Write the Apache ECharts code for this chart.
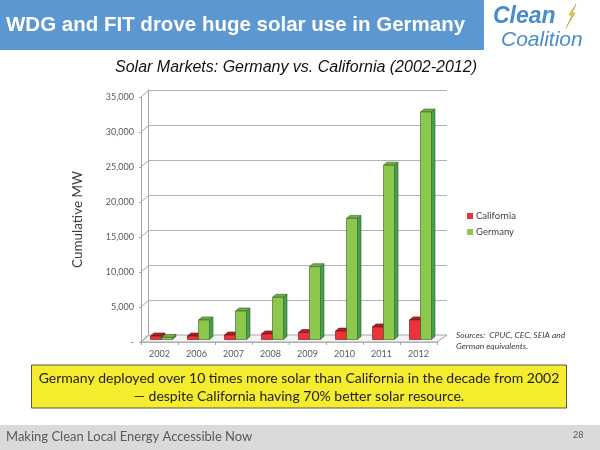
<!DOCTYPE html>
<html>
<head>
<meta charset="utf-8">
<style>html,body{margin:0;padding:0;background:#fff}#main{width:600px;height:450px}</style>
<script src="https://cdn.jsdelivr.net/npm/echarts@6/dist/echarts.min.js"></script>
</head>
<body>
<div id="main"></div>
<script>
var categories = ['2002', '2006', '2007', '2008', '2009', '2010', '2011', '2012'];
var california = [500, 500, 640, 800, 1000, 1200, 1800, 2800];
var germany = [300, 2790, 4070, 6030, 10400, 17300, 24900, 32500];
var yTicks = [0, 5000, 10000, 15000, 20000, 25000, 30000, 35000];

var chart = echarts.init(document.getElementById('main'));

// how far the bars sit back from the front plane, and their own depth
var BAR_W = 11, OFF_X = 2, OFF_Y = -2.5, DEPTH_X = 3.5, DEPTH_Y = -3;

function barRenderer(side, front, top, dark, edge) {
    return function (params, api) {
        var p = api.coord([api.value(0), api.value(1)]);
        var b = api.coord([api.value(0), 0]);
        var x0 = p[0] + OFF_X + (side < 0 ? -BAR_W : 0);
        var x1 = x0 + BAR_W;
        var y0 = p[1] + OFF_Y;
        var y1 = b[1] + OFF_Y;
        var line = { stroke: edge, lineWidth: 0.6 };
        return {
            type: 'group',
            children: [
                { type: 'polygon', shape: { points: [[x1, y0], [x1 + DEPTH_X, y0 + DEPTH_Y], [x1 + DEPTH_X, y1 + DEPTH_Y], [x1, y1]] }, style: Object.assign({ fill: dark }, line) },
                { type: 'polygon', shape: { points: [[x0, y0], [x0 + DEPTH_X, y0 + DEPTH_Y], [x1 + DEPTH_X, y0 + DEPTH_Y], [x1, y0]] }, style: Object.assign({ fill: top }, line) },
                { type: 'rect', shape: { x: x0, y: y0, width: BAR_W, height: y1 - y0 }, style: Object.assign({ fill: front }, line) }
            ]
        };
    };
}

function wallEdges(params, api) {
    var p = api.coord([0, api.value(0)]);
    var x = params.coordSys.x;
    return {
        type: 'line',
        shape: { x1: x, y1: p[1], x2: x + 7, y2: p[1] - 6 },
        style: { stroke: '#a6a6a6', lineWidth: 1 }
    };
}

function floor(params, api) {
    var c = params.coordSys;
    var y = c.y + c.height;
    return {
        type: 'polygon',
        shape: { points: [[c.x, y], [c.x + 7, y - 7], [c.x + c.width + 10, y - 7], [c.x + c.width, y]] },
        style: { fill: '#f4f4f4', stroke: '#a6a6a6', lineWidth: 1 }
    };
}

var option = {
    animation: false,
    grid: [
        { left: 141, right: 163, top: 97, bottom: 108 },
        { left: 148, right: 153, top: 90, bottom: 115 }
    ],
    xAxis: [
        {
            type: 'category', gridIndex: 0, data: categories,
            axisLine: { lineStyle: { color: '#a6a6a6', width: 1.5 } },
            axisTick: { show: true, alignWithLabel: false, length: 3, lineStyle: { color: '#a6a6a6' } },
            axisLabel: { color: '#595959', fontFamily: 'Lato', fontSize: 9, margin: 8, interval: 0 }
        },
        { type: 'category', gridIndex: 1, data: categories, show: false }
    ],
    yAxis: [
        {
            type: 'value', gridIndex: 0, min: 0, max: 35000, interval: 5000,
            name: 'Cumulative MW', nameLocation: 'middle', nameGap: 56,
            nameTextStyle: { color: '#404040', fontFamily: 'Lato', fontSize: 13.5 },
            axisLine: { show: true, lineStyle: { color: '#a6a6a6', width: 1 } },
            axisTick: { show: true, length: 2, lineStyle: { color: '#a6a6a6' } },
            splitLine: { show: false },
            axisLabel: {
                color: '#595959', fontFamily: 'Lato', fontSize: 9, margin: 7,
                formatter: function (v) { return v === 0 ? '-' : v.toLocaleString('en-US'); }
            }
        },
        {
            type: 'value', gridIndex: 1, min: 0, max: 35000, interval: 5000,
            axisLabel: { show: false }, axisTick: { show: false },
            axisLine: { show: true, lineStyle: { color: '#a6a6a6', width: 1 } },
            splitLine: { show: true, lineStyle: { color: '#b3b3b3', width: 1 } }
        }
    ],
    legend: {
        orient: 'vertical', left: 462, top: 206, itemWidth: 6, itemHeight: 6, itemGap: 6,
        icon: 'rect', data: ['California', 'Germany'],
        textStyle: { color: '#404040', fontFamily: 'Lato', fontSize: 9.5, padding: [0, 0, 0, -2] }
    },
    series: [
        { name: 'floor', type: 'custom', silent: true, xAxisIndex: 0, yAxisIndex: 0, clip: false, data: [0], renderItem: floor, z: 1 },
        { name: 'edges', type: 'custom', silent: true, xAxisIndex: 0, yAxisIndex: 0, clip: false, data: yTicks, renderItem: wallEdges, z: 1, encode: { y: 0 } },
        {
            name: 'California', type: 'custom', xAxisIndex: 0, yAxisIndex: 0, clip: false, z: 3,
            itemStyle: { color: '#ee3338' },
            data: california.map(function (v, i) { return [i, v]; }),
            renderItem: barRenderer(-1, '#ee3338', '#b3212a', '#a81c22', '#5a1014')
        },
        {
            name: 'Germany', type: 'custom', xAxisIndex: 0, yAxisIndex: 0, clip: false, z: 4,
            itemStyle: { color: '#8cc84b' },
            data: germany.map(function (v, i) { return [i, v]; }),
            renderItem: barRenderer(1, '#8cc84b', '#6db043', '#3fa34d', '#3c5a2c')
        }
    ],
    graphic: [
        { type: 'rect', shape: { x: 0, y: 0, width: 484, height: 50 }, style: { fill: '#5b97d1' } },
        { type: 'text', x: 6, y: 25, style: { text: 'WDG and FIT drove huge solar use in Germany', fill: '#fff', font: 'bold 20.5px "Liberation Sans"', textVerticalAlign: 'middle' } },
        { type: 'text', x: 493, y: 17, style: { text: 'Clean', fill: '#4a8ccb', font: 'italic bold 23px "Liberation Sans"', textVerticalAlign: 'middle' } },
        { type: 'text', x: 501, y: 40, style: { text: 'Coalition', fill: '#4a8ccb', font: 'italic 21px "Liberation Sans"', textVerticalAlign: 'middle' } },
        { type: 'polygon', shape: { points: [[576, 4], [569, 15], [572, 15], [566, 28], [575, 13], [572, 13]] }, style: { fill: '#f2c832', stroke: '#8a7a30', lineWidth: 0.4 } },
        { type: 'text', x: 296, y: 68, style: { text: 'Solar Markets: Germany vs. California (2002-2012)', fill: '#111', font: 'italic 16px "Liberation Sans"', textAlign: 'center', textVerticalAlign: 'middle' } },
        { type: 'text', x: 456, y: 335, style: { text: 'Sources:  CPUC, CEC, SEIA and', fill: '#404040', font: 'italic 8.5px Lato', textVerticalAlign: 'middle' } },
        { type: 'text', x: 456, y: 346, style: { text: 'German equivalents.', fill: '#404040', font: 'italic 8.5px Lato', textVerticalAlign: 'middle' } },
        { type: 'rect', shape: { x: 31.5, y: 365, width: 535, height: 43 }, style: { fill: '#f5ec2d', stroke: '#555', lineWidth: 1 } },
        { type: 'text', x: 299, y: 378, style: { text: 'Germany deployed over 10 times more solar than California in the decade from 2002', fill: '#222', font: '14px Lato', textAlign: 'center', textVerticalAlign: 'middle' } },
        { type: 'text', x: 299, y: 396, style: { text: '\u2014 despite California having 70% better solar resource.', fill: '#222', font: '14px Lato', textAlign: 'center', textVerticalAlign: 'middle' } },
        { type: 'rect', shape: { x: 0, y: 425, width: 600, height: 25 }, style: { fill: '#d9dbdb' } },
        { type: 'text', x: 6, y: 437, style: { text: 'Making Clean Local Energy Accessible Now', fill: '#595959', font: '13px Lato', textVerticalAlign: 'middle' } },
        { type: 'text', x: 573, y: 435, style: { text: '28', fill: '#595959', font: '9px Lato', textVerticalAlign: 'middle' } }
    ]
};

chart.setOption(option);

window.onresize = chart.resize;
</script>
</body>
</html>
